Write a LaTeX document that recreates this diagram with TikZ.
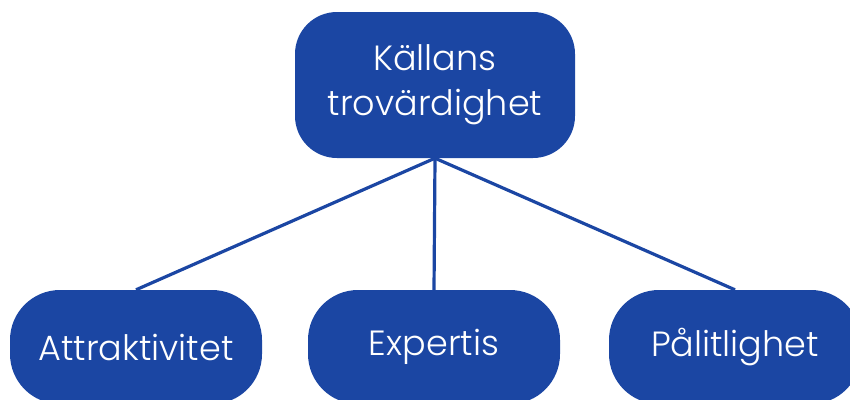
\documentclass[tikz,border=0pt]{standalone}
\usepackage{fontspec}
\setmainfont{Poppins}[UprightFont=* Light]
\definecolor{boxblue}{HTML}{1B46A3}
\begin{document}
\begin{tikzpicture}[x=1pt,y=-1pt,
  box/.style={fill=boxblue,draw=none,rounded corners=42pt,text=white,align=center,
    font=\fontsize{35}{45}\selectfont,inner sep=0pt},
  link/.style={draw=boxblue,line width=3.2pt}]
\useasboundingbox (0,0) rectangle (850,399);
\clip (0,0) rectangle (850,399);
\node[box,minimum width=280pt,minimum height=146pt] (top) at (435,85) {Källans\\trovärdighet};
\node[box,minimum width=252pt,minimum height=114pt,rounded corners=50pt] (att) at (136,347) {Attraktivitet};
\node[box,minimum width=252pt,minimum height=114pt,rounded corners=50pt] (exp) at (434,347) {Expertis};
\node[box,minimum width=252pt,minimum height=114pt,rounded corners=50pt] (pal) at (735,347) {Pålitlighet};
\draw[link] (top.south) -- (att.north);
\draw[link] (top.south) -- (exp.north);
\draw[link] (top.south) -- (pal.north);
\end{tikzpicture}
\end{document}
